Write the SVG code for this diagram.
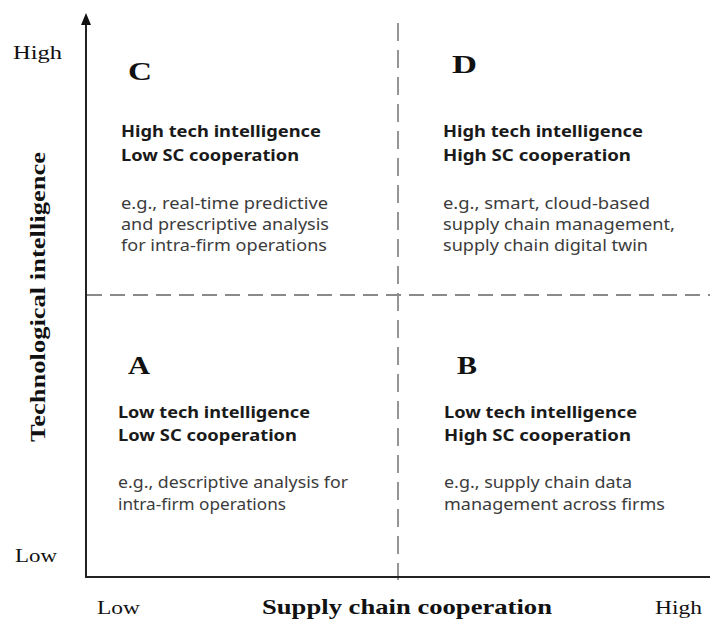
<svg xmlns="http://www.w3.org/2000/svg" width="710" height="624" viewBox="0 0 710 624">
<style>
.ser{font-family:"Liberation Serif","Times New Roman",serif;fill:#111}
.lbl{font-size:19px}
.ttl{font-size:22px;font-weight:bold}
.let{font-size:26px;font-weight:bold}
.hd{font-family:"Noto Sans","Open Sans",sans-serif;font-size:16px;font-weight:bold;fill:#1a1a1a}
.ds{font-family:"Noto Sans","Open Sans",sans-serif;font-size:16px;fill:#3c3c3c}
.axis{stroke:#222;stroke-width:2;fill:none}
.dash{stroke:#8a8a8a;stroke-width:1.8;fill:none}
</style>
<defs>
<marker id="arr" markerWidth="10" markerHeight="12" refX="5" refY="0" orient="auto" markerUnits="userSpaceOnUse" viewBox="0 0 10 12">
<path d="M0,12 L5,0 L10,12 Z" fill="#111"/>
</marker>
</defs>
<rect width="710" height="624" fill="#fff"/>
<g id="connectors">
<line class="dash" x1="87" y1="295" x2="710" y2="295" stroke-dasharray="15 8"/>
<line class="dash" x1="398" y1="23" x2="398" y2="580" stroke-dasharray="18 9"/>
<path class="axis" d="M86,577 L86,24"/>
<path d="M81,25 L86,13 L91,25 Z" fill="#111"/>
<path class="axis" d="M85,577 L710,577"/>
</g>
<g id="axis-labels">
<text class="ser lbl" x="13" y="59" textLength="49" lengthAdjust="spacingAndGlyphs">High</text>
<text class="ser lbl" x="15" y="562" textLength="42" lengthAdjust="spacingAndGlyphs">Low</text>
<text class="ser lbl" x="97" y="614" textLength="43" lengthAdjust="spacingAndGlyphs">Low</text>
<text class="ser lbl" x="655" y="614" textLength="47" lengthAdjust="spacingAndGlyphs">High</text>
<text class="ser ttl" x="262" y="614" textLength="290" lengthAdjust="spacingAndGlyphs">Supply chain cooperation</text>
<text class="ser ttl" transform="translate(45,297) rotate(-90)" x="0" y="0" text-anchor="middle" textLength="290" lengthAdjust="spacingAndGlyphs">Technological intelligence</text>
</g>
<g id="quadrant-C">
<text class="ser let" x="128" y="80" textLength="24" lengthAdjust="spacingAndGlyphs">C</text>
<text class="hd" x="121" y="137" textLength="200" lengthAdjust="spacingAndGlyphs">High tech intelligence</text>
<text class="hd" x="121" y="161" textLength="178" lengthAdjust="spacingAndGlyphs">Low SC cooperation</text>
<text class="ds" x="121" y="209" textLength="207" lengthAdjust="spacingAndGlyphs">e.g., real-time predictive</text>
<text class="ds" x="121" y="230" textLength="208" lengthAdjust="spacingAndGlyphs">and prescriptive analysis</text>
<text class="ds" x="121" y="251" textLength="206" lengthAdjust="spacingAndGlyphs">for intra-firm operations</text>
</g>
<g id="quadrant-D">
<text class="ser let" x="452" y="73" textLength="25" lengthAdjust="spacingAndGlyphs">D</text>
<text class="hd" x="443" y="137" textLength="200" lengthAdjust="spacingAndGlyphs">High tech intelligence</text>
<text class="hd" x="443" y="161" textLength="188" lengthAdjust="spacingAndGlyphs">High SC cooperation</text>
<text class="ds" x="443" y="209" textLength="207" lengthAdjust="spacingAndGlyphs">e.g., smart, cloud-based</text>
<text class="ds" x="443" y="230" textLength="232" lengthAdjust="spacingAndGlyphs">supply chain management,</text>
<text class="ds" x="443" y="251" textLength="205" lengthAdjust="spacingAndGlyphs">supply chain digital twin</text>
</g>
<g id="quadrant-A">
<text class="ser let" x="128" y="374" textLength="22" lengthAdjust="spacingAndGlyphs">A</text>
<text class="hd" x="118" y="418" textLength="192" lengthAdjust="spacingAndGlyphs">Low tech intelligence</text>
<text class="hd" x="118" y="441" textLength="179" lengthAdjust="spacingAndGlyphs">Low SC cooperation</text>
<text class="ds" x="118" y="488" textLength="230" lengthAdjust="spacingAndGlyphs">e.g., descriptive analysis for</text>
<text class="ds" x="118" y="510" textLength="168" lengthAdjust="spacingAndGlyphs">intra-firm operations</text>
</g>
<g id="quadrant-B">
<text class="ser let" x="457" y="374" textLength="20" lengthAdjust="spacingAndGlyphs">B</text>
<text class="hd" x="444" y="418" textLength="193" lengthAdjust="spacingAndGlyphs">Low tech intelligence</text>
<text class="hd" x="444" y="441" textLength="187" lengthAdjust="spacingAndGlyphs">High SC cooperation</text>
<text class="ds" x="444" y="488" textLength="188" lengthAdjust="spacingAndGlyphs">e.g., supply chain data</text>
<text class="ds" x="444" y="510" textLength="221" lengthAdjust="spacingAndGlyphs">management across firms</text>
</g>
</svg>
